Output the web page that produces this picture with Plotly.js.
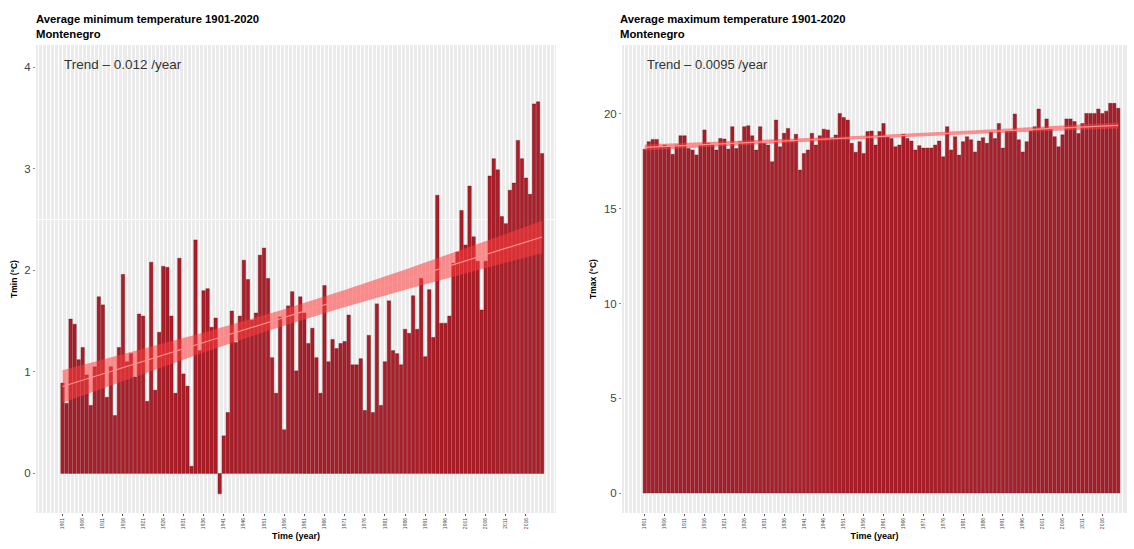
<!DOCTYPE html>
<html>
<head>
<meta charset="utf-8">
<script src="https://cdn.plot.ly/plotly-3.0.1.min.js"></script>
<style>html,body{margin:0;padding:0;background:#fff;}#chart{width:1134px;height:549px;}</style>
</head>
<body>
<div id="chart"></div>
<script>
const years = [1901,1902,1903,1904,1905,1906,1907,1908,1909,1910,1911,1912,1913,1914,1915,1916,1917,1918,1919,1920,
1921,1922,1923,1924,1925,1926,1927,1928,1929,1930,1931,1932,1933,1934,1935,1936,1937,1938,1939,1940,
1941,1942,1943,1944,1945,1946,1947,1948,1949,1950,1951,1952,1953,1954,1955,1956,1957,1958,1959,1960,
1961,1962,1963,1964,1965,1966,1967,1968,1969,1970,1971,1972,1973,1974,1975,1976,1977,1978,1979,1980,
1981,1982,1983,1984,1985,1986,1987,1988,1989,1990,1991,1992,1993,1994,1995,1996,1997,1998,1999,2000,
2001,2002,2003,2004,2005,2006,2007,2008,2009,2010,2011,2012,2013,2014,2015,2016,2017,2018,2019,2020];

const tmin = [0.89,0.69,1.52,1.47,1.12,1.24,0.97,0.67,1.05,1.74,1.66,0.75,1.05,0.57,1.24,1.96,1.10,1.18,0.95,1.57,
1.55,0.71,2.08,0.82,1.39,2.04,2.03,1.55,0.79,2.12,0.98,0.86,0.07,2.30,1.21,1.80,1.82,1.44,1.53,-0.20,
0.37,0.60,1.60,1.29,1.55,2.10,1.91,1.51,1.58,2.15,2.22,1.92,1.14,0.79,1.54,0.43,1.65,1.79,1.01,1.74,
1.58,1.28,1.43,1.14,0.79,1.85,1.10,1.32,1.23,1.28,1.30,1.56,1.07,1.07,1.13,0.62,1.36,0.60,1.67,0.67,
1.10,1.70,1.21,1.18,1.07,1.42,1.38,1.75,1.42,1.92,1.15,1.81,1.34,2.74,1.48,1.48,1.55,2.07,2.18,2.59,
2.25,2.83,2.33,2.09,1.61,2.09,2.93,3.10,2.99,2.53,2.46,2.79,2.86,3.28,3.10,2.91,2.75,3.64,3.66,3.15];

const tmax = [18.14,18.54,18.66,18.66,18.27,18.36,18.27,17.87,18.36,18.85,18.85,18.18,18.10,17.84,18.36,19.16,18.45,18.36,18.10,18.71,
18.68,18.15,19.33,18.18,18.54,19.33,19.38,18.85,18.10,19.33,18.45,18.36,17.48,19.68,18.27,18.98,19.24,18.54,18.93,17.04,
17.92,18.10,18.98,18.36,18.85,19.20,19.16,18.71,18.89,20.03,19.81,19.68,18.45,17.98,18.54,17.92,19.07,19.10,18.36,19.07,
19.50,18.80,18.70,18.27,18.36,18.93,18.70,18.57,18.10,18.33,18.20,18.20,18.20,18.36,18.57,17.74,19.33,18.10,18.80,17.83,
18.54,18.80,18.64,18.00,18.57,18.75,18.45,19.07,18.70,19.50,18.20,19.10,19.10,20.00,18.64,18.00,18.54,19.10,19.33,20.26,
19.24,19.74,19.24,18.80,18.27,18.90,19.74,19.74,19.60,18.97,19.50,20.03,20.03,20.03,20.26,20.03,20.15,20.56,20.56,20.30];

const tickYears = [1901,1906,1911,1916,1921,1926,1931,1936,1941,1946,1951,1956,1961,1966,1971,1976,1981,1986,1991,1996,2001,2006,2011,2016];
const titleMin = "<b>Average minimum temperature 1901-2020<br>Montenegro</b>";
const titleMax = "<b>Average maximum temperature 1901-2020<br>Montenegro</b>";
const trendMin = "Trend – 0.012 /year";
const trendMax = "Trend – 0.0095 /year";

function lmBand(x, y, z) {
  const n = x.length;
  const mx = x.reduce((a,b)=>a+b,0)/n, my = y.reduce((a,b)=>a+b,0)/n;
  let sxx=0, sxy=0;
  for (let i=0;i<n;i++){ sxx+=(x[i]-mx)**2; sxy+=(x[i]-mx)*(y[i]-my); }
  const b = sxy/sxx, a = my - b*mx;
  let sse=0; for (let i=0;i<n;i++){ sse+=(y[i]-a-b*x[i])**2; }
  const s = Math.sqrt(sse/(n-2));
  const fit=[], lo=[], hi=[];
  for (let i=0;i<n;i++){
    const f = a+b*x[i];
    const se = s*Math.sqrt(1/n + (x[i]-mx)**2/sxx);
    fit.push(f); lo.push(f-z*se); hi.push(f+z*se);
  }
  return {fit, lo, hi};
}

const barFill = '#ae1d27', barLine = '#65101a';
function panelTraces(y, xa, ya) {
  const m = lmBand(years, y, 1.45);
  return [
    {type:'bar', x:years, y:y, xaxis:xa, yaxis:ya, marker:{color:barFill, line:{color:barLine, width:0.4}}, hoverinfo:'x+y'},
    {type:'scatter', mode:'lines', x:years, y:m.lo, xaxis:xa, yaxis:ya, line:{width:0, color:'rgba(0,0,0,0)'}, hoverinfo:'skip'},
    {type:'scatter', mode:'lines', x:years, y:m.hi, xaxis:xa, yaxis:ya, fill:'tonexty', fillcolor:'rgba(255,60,60,0.55)', line:{width:0, color:'rgba(0,0,0,0)'}, hoverinfo:'skip'},
    {type:'scatter', mode:'lines', x:years, y:m.fit, xaxis:xa, yaxis:ya, line:{width:1.2, color:'#ff9090'}, hoverinfo:'skip'}
  ];
}

const data = [].concat(panelTraces(tmin,'x','y'), panelTraces(tmax,'x2','y2'));

const W = 1134, H = 549;
const px = v => v/W, py = v => (H - v)/H;
const font = 'Liberation Sans, Arial, sans-serif';

function xaxisDef(domain, range) {
  return {
    domain: domain, range: range, tickmode:'array', tickvals: tickYears, ticktext: tickYears.map(String),
    tickangle: -90, tickfont:{size:5, color:'#4d4d4d', family:font},
    ticks:'outside', ticklen:2, tickcolor:'#555', showline:false, zeroline:false,
    showgrid:true, gridcolor:'#ffffff', gridwidth:1,
    minor:{dtick:1, tick0:1901, showgrid:true, gridcolor:'#ffffff', gridwidth:1, ticks:''},
    title:{text:'<b>Time (year)</b>', font:{size:9, color:'#000', family:font}, standoff:4},
    fixedrange:true
  };
}
function yaxisDef(domain, range, tickvals, title) {
  return {
    domain: domain, range: range, tickmode:'array', tickvals: tickvals,
    tickfont:{size:11.5, color:'#444', family:font},
    ticks:'outside', ticklen:2, tickcolor:'#888', showline:false, zeroline:false,
    showgrid:false,
    title:{text:title, font:{size:8.5, color:'#000', family:font}, standoff:5},
    fixedrange:true
  };
}

const yDom = [py(513), py(45)];
const layout = {
  width: W, height: H,
  margin:{l:0, r:0, t:0, b:0},
  paper_bgcolor:'#ffffff',
  plot_bgcolor:'#ebebeb',
  showlegend:false,
  bargap:0.16,
  xaxis: xaxisDef([px(36), px(556)], [1894.42, 2023.45]),
  yaxis: yaxisDef(yDom, [-0.39, 4.22], [0,1,2,3,4], '<b>Tmin (°C)</b>'),
  xaxis2: Object.assign(xaxisDef([px(622), px(1127)], [1895.27, 2022.2]), {anchor:'y2'}),
  yaxis2: Object.assign(yaxisDef(yDom, [-1.055, 23.64], [0,5,10,15,20], '<b>Tmax (°C)</b>'), {anchor:'x2'}),
  shapes:[
    {type:'line', layer:'below', xref:'x domain', yref:'y', x0:0, x1:1, y0:2.5, y1:2.5, line:{color:'#ffffff', width:1}}
  ],
  annotations:[
    {text:titleMin, xref:'paper', yref:'paper', x:px(34), y:py(11), xanchor:'left', yanchor:'top', align:'left', showarrow:false, font:{size:11.3, color:'#000', family:font}},
    {text:titleMax, xref:'paper', yref:'paper', x:px(618), y:py(11), xanchor:'left', yanchor:'top', align:'left', showarrow:false, font:{size:11.3, color:'#000', family:font}},
    {text:trendMin, xref:'paper', yref:'paper', x:px(62), y:py(64), xanchor:'left', yanchor:'middle', showarrow:false, font:{size:13.5, color:'#333', family:font}},
    {text:trendMax, xref:'paper', yref:'paper', x:px(645), y:py(64), xanchor:'left', yanchor:'middle', showarrow:false, font:{size:13, color:'#333', family:font}}
  ]
};

Plotly.newPlot('chart', data, layout, {displayModeBar:false, staticPlot:true});
</script>
</body>
</html>
